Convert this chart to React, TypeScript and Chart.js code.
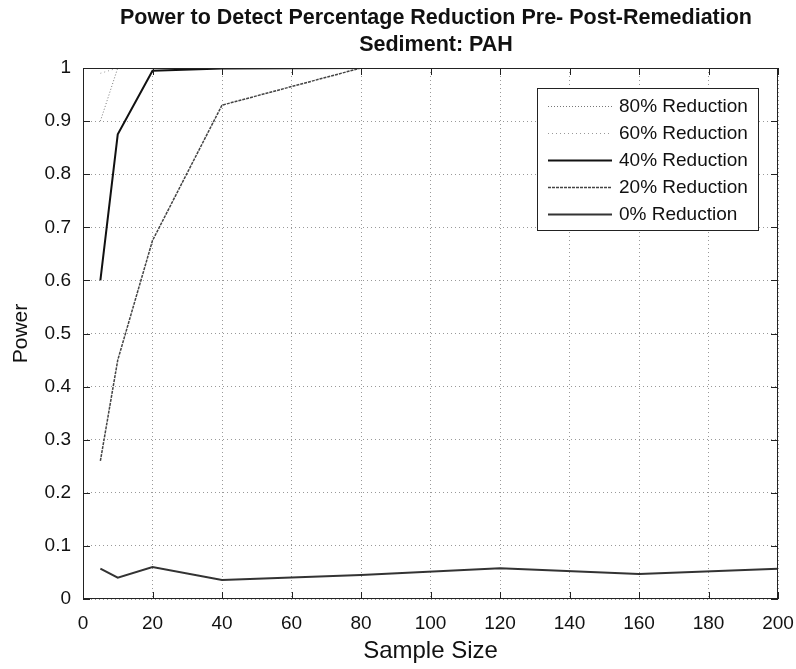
import React, { useEffect, useRef } from "react";
import { Chart, registerables } from "chart.js";

Chart.register(...registerables);

const sampleSizes = [5, 10, 20, 40, 80, 120, 160, 200];
const red80 = [0.9, 1, 1, 1, 1, 1, 1, 1];
const red60 = [0.99, 1, 1, 1, 1, 1, 1, 1];
const red40 = [0.6, 0.875, 0.995, 0.999, 1, 1, 1, 1];
const red20 = [0.26, 0.45, 0.675, 0.93, 1.0, 1, 1, 1];
const red0 = [0.057, 0.04, 0.06, 0.036, 0.045, 0.058, 0.047, 0.057];
const seriesLabels = ["80% Reduction", "60% Reduction", "40% Reduction", "20% Reduction", "0% Reduction"];
const titleLines = ["Power to Detect Percentage Reduction Pre- Post-Remediation", "Sediment: PAH"];

const FONT = "'Liberation Sans', Arial, sans-serif";

const styles = [
  { color: "#777", width: 1, dash: [1, 2] },
  { color: "#999", width: 1, dash: [1, 3] },
  { color: "#111", width: 2, dash: [] as number[] },
  { color: "#444", width: 1.5, dash: [3, 1] },
  { color: "#333", width: 2, dash: [] as number[] },
];

export default function App() {
  const ref = useRef<HTMLCanvasElement>(null);
  useEffect(() => {
    const all = [red80, red60, red40, red20, red0];
    const datasets = all.map((arr, i) => ({
      label: seriesLabels[i],
      data: arr.map((v, j) => ({ x: sampleSizes[j], y: v })),
      borderColor: styles[i].color,
      borderWidth: styles[i].width,
      borderDash: styles[i].dash,
      pointRadius: 0,
      fill: false,
      tension: 0,
    }));

    const framePlugin = {
      id: "frame",
      afterDraw(chart: any) {
        const { ctx, chartArea: a, scales } = chart;
        ctx.save();
        ctx.strokeStyle = "#222";
        ctx.lineWidth = 1;
        ctx.setLineDash([]);
        ctx.strokeRect(a.left + 0.5, a.top + 0.5, a.right - a.left - 1, a.bottom - a.top - 1);
        const xs = scales.x;
        for (let v = 0; v <= 200; v += 20) {
          const px = Math.round(xs.getPixelForValue(v)) + 0.5;
          ctx.beginPath();
          ctx.moveTo(px, a.bottom);
          ctx.lineTo(px, a.bottom - 7);
          ctx.moveTo(px, a.top);
          ctx.lineTo(px, a.top + 7);
          ctx.stroke();
        }
        const ys = scales.y;
        for (let k = 0; k <= 10; k++) {
          const py = Math.round(ys.getPixelForValue(k / 10)) + 0.5;
          ctx.beginPath();
          ctx.moveTo(a.left, py);
          ctx.lineTo(a.left + 7, py);
          ctx.moveTo(a.right, py);
          ctx.lineTo(a.right - 7, py);
          ctx.stroke();
        }
        // title
        ctx.fillStyle = "#111";
        ctx.font = `bold 21.5px ${FONT}`;
        ctx.textAlign = "center";
        ctx.textBaseline = "middle";
        const cx = 436;
        ctx.fillText(titleLines[0], cx, 18);
        ctx.fillText(titleLines[1], cx, 45);
        // legend
        const lx = 537, ly = 88, lw = 221, lh = 142;
        ctx.fillStyle = "#fff";
        ctx.fillRect(lx, ly, lw, lh);
        ctx.strokeStyle = "#222";
        ctx.strokeRect(lx + 0.5, ly + 0.5, lw, lh);
        ctx.font = `19px ${FONT}`;
        ctx.textAlign = "left";
        seriesLabels.forEach((lab, i) => {
          const y = 106 + i * 27;
          ctx.save();
          ctx.strokeStyle = styles[i].color;
          ctx.lineWidth = styles[i].width;
          ctx.setLineDash(styles[i].dash);
          ctx.beginPath();
          ctx.moveTo(548, y + 0.5);
          ctx.lineTo(612, y + 0.5);
          ctx.stroke();
          ctx.restore();
          ctx.fillStyle = "#111";
          ctx.fillText(lab, 619, y + 1);
        });
        ctx.restore();
      },
    };

    const chart = new Chart(ref.current!, {
      type: "line",
      data: { datasets },
      options: {
        animation: false,
        responsive: false,
        layout: { padding: { top: 68, right: 18, left: 0, bottom: 0 } },
        plugins: { legend: { display: false }, title: { display: false }, tooltip: { enabled: false } },
        scales: {
          x: {
            type: "linear",
            min: 0,
            max: 200,
            afterFit: (s: any) => { s.height = 70; s.paddingRight = 0; s.paddingLeft = 0; },
            ticks: { stepSize: 20, color: "#111", font: { family: FONT, size: 19 }, padding: 13, maxRotation: 0 },
            grid: { color: "#999", lineWidth: 1, drawTicks: false },
            border: { display: false, dash: [1, 3] },
            title: { display: true, text: "Sample Size", color: "#111", font: { family: FONT, size: 24 }, padding: { top: 0, bottom: 3 } },
          },
          y: {
            min: 0,
            max: 1,
            afterFit: (s: any) => { s.width = 83; },
            ticks: {
              stepSize: 0.1,
              color: "#111",
              font: { family: FONT, size: 19 },
              padding: 12,
              callback: (v: any) => String(Math.round(Number(v) * 10) / 10),
            },
            grid: { color: "#999", lineWidth: 1, drawTicks: false },
            border: { display: false, dash: [1, 3] },
            title: { display: true, text: "Power", color: "#111", font: { family: FONT, size: 21 }, padding: { top: 9, bottom: 0 } },
          },
        },
      },
      plugins: [framePlugin],
    } as any);
    return () => chart.destroy();
  }, []);
  return (
    <div style={{ position: "fixed", left: 0, top: 0, width: 796, height: 669, background: "#fff" }}>
      <canvas ref={ref} width={796} height={669} style={{ width: 796, height: 669 }} />
    </div>
  );
}
